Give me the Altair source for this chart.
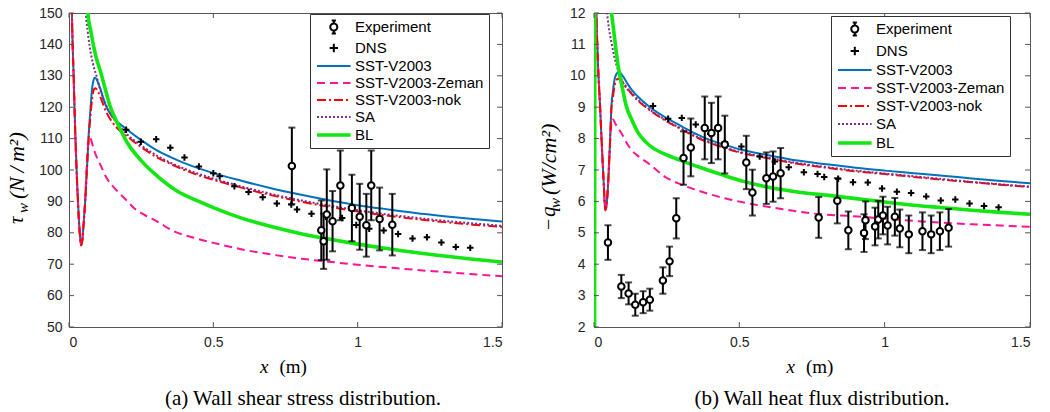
import altair as alt
import pandas as pd

# ---------------- legend / series ----------------
SERIES = ["Experiment", "DNS", "SST-V2003", "SST-V2003-Zeman", "SST-V2003-nok", "SA", "BL"]
COLORS = ["#000000", "#000000", "#0072BD", "#FF1493", "#FF0000", "#7E2F8E", "#13E613"]
DASHES = [[1, 0], [1, 0], [1, 0], [8, 5], [9, 3, 2, 3], [2, 2], [1, 0]]
WIDTHS = [2, 2, 2, 2, 2, 2, 3.6]

# ---------------- panel (a): wall shear stress ----------------
A_SST_X = [0.004, 0.01, 0.016, 0.022, 0.028, 0.034, 0.038, 0.042, 0.046, 0.05, 0.056, 0.062, 0.068,
           0.074, 0.08, 0.085, 0.089, 0.095, 0.1, 0.11, 0.12, 0.13, 0.15, 0.2, 0.25, 0.3, 0.35, 0.4,
           0.45, 0.5, 0.6, 0.7, 0.8, 0.9, 1.0, 1.1, 1.2, 1.3, 1.4, 1.5]
A_SST_Y = [190, 150, 130, 111, 96, 84.6, 79, 76, 77.5, 82, 90, 100, 111,
           119, 126, 128.6, 129.4, 129, 128, 125.5, 122.5, 120, 117, 113, 109.5, 106.5, 104.2, 102.2,
           100.5, 99, 96.5, 94.2, 92.2, 90.4, 88.8, 87.5, 86.3, 85.3, 84.4, 83.6]
A_NOK_X = [0.004, 0.01, 0.016, 0.022, 0.028, 0.034, 0.038, 0.042, 0.046, 0.05, 0.056, 0.062, 0.068,
           0.074, 0.08, 0.085, 0.09, 0.095, 0.1, 0.11, 0.12, 0.13, 0.15, 0.2, 0.25, 0.3, 0.35, 0.4,
           0.45, 0.5, 0.6, 0.7, 0.8, 0.9, 1.0, 1.1, 1.2, 1.3, 1.4, 1.5]
A_NOK_Y = [190, 150, 130, 111, 96, 84.6, 79, 76, 77.5, 82, 90, 100, 110,
           117, 122.5, 125.3, 126, 125.8, 125, 123, 120.5, 118.3, 115.2, 110.8, 107.3, 104.3, 102, 100,
           98.3, 96.9, 94.3, 92, 90, 88.3, 86.8, 85.5, 84.4, 83.4, 82.6, 81.9]
A_ZEM_X = [0.004, 0.01, 0.016, 0.022, 0.028, 0.034, 0.038, 0.042, 0.046, 0.05, 0.056, 0.061, 0.066,
           0.07, 0.075, 0.08, 0.09, 0.1, 0.108, 0.13, 0.16, 0.2, 0.224, 0.26, 0.305, 0.363, 0.43, 0.5,
           0.6, 0.7, 0.8, 0.9, 1.0, 1.1, 1.2, 1.3, 1.4, 1.5]
A_ZEM_Y = [190, 150, 130, 111, 96, 84.6, 79, 76, 77.5, 82, 90, 101, 108,
           110.3, 110, 108.5, 105.5, 103.3, 101.8, 97.5, 94, 90.3, 88, 85.8, 83.6, 80.5, 78.5, 76.8,
           74.7, 73.1, 71.8, 70.8, 69.8, 69, 68.2, 67.5, 66.8, 66.2]
A_SA_X = [0.052, 0.058, 0.065, 0.071, 0.083, 0.095, 0.11, 0.13, 0.15, 0.2, 0.25, 0.3, 0.4, 0.5,
          0.6, 0.7, 0.8, 0.9, 1.0, 1.1, 1.2, 1.3, 1.4, 1.5]
A_SA_Y = [158, 150, 144, 139.7, 133.9, 130, 125, 120.3, 117, 111.5, 107.8, 104.8, 100.4, 97.3,
          94.7, 92.4, 90.4, 88.7, 87.2, 85.9, 84.8, 83.8, 83, 82.2]
A_BL_X = [0.062, 0.066, 0.075, 0.085, 0.095, 0.106, 0.125, 0.141, 0.17, 0.2, 0.25, 0.3, 0.374, 0.45,
          0.5, 0.6, 0.7, 0.8, 0.9, 1.0, 1.1, 1.2, 1.3, 1.4, 1.5]
A_BL_Y = [155, 149.3, 144.5, 139.5, 135.5, 132.3, 126, 120.7, 114.5, 109, 103, 98.5, 93.3, 90,
          88, 84.6, 82, 79.8, 78, 76.4, 75, 73.7, 72.6, 71.6, 70.7]
A_DNS_X = [0.198, 0.249, 0.302, 0.351, 0.40, 0.45, 0.50, 0.522, 0.573, 0.622, 0.671, 0.72, 0.77,
           0.79, 0.84, 0.89, 0.946, 0.995, 1.04, 1.09, 1.14, 1.19, 1.24, 1.29, 1.34, 1.39]
A_DNS_Y = [112.8, 109, 109.8, 107.1, 104, 101.1, 99, 98, 94.8, 93, 91.3, 89.3, 89,
           87.4, 86.1, 85.1, 84.7, 82.5, 81.3, 80.7, 79.6, 78.2, 78.6, 76.9, 75.5, 75.2]
A_EXP_X = [0.772, 0.874, 0.882, 0.893, 0.913, 0.94, 0.98, 1.007, 1.03, 1.047, 1.076, 1.12]
A_EXP_Y = [101.3, 80.8, 77.3, 85.8, 83.7, 95.1, 87.9, 85.1, 82.4, 95.1, 84.4, 82.6]
A_EXP_E = [12.2, 9.5, 8.8, 14.4, 9.6, 11.1, 10.6, 10.5, 10.0, 11.1, 10.0, 9.8]

# ---------------- panel (b): wall heat flux ----------------
B_SST_X = [0.003, 0.008, 0.014, 0.02, 0.025, 0.03, 0.034, 0.039, 0.044, 0.048, 0.054, 0.06, 0.065,
           0.071, 0.078, 0.085, 0.092, 0.1, 0.115, 0.13, 0.15, 0.174, 0.2, 0.25, 0.3, 0.358, 0.4,
           0.45, 0.5, 0.55, 0.6, 0.7, 0.8, 0.9, 1.0, 1.1, 1.2, 1.3, 1.4, 1.5]
B_SST_Y = [14, 12, 10.3, 9.2, 8.18, 7.2, 6.47, 5.72, 5.95, 6.47, 7.65, 9.04, 9.5,
           9.9, 10.07, 10.12, 10.08, 9.98, 9.75, 9.55, 9.35, 9.14, 8.95, 8.65, 8.4, 8.12, 7.95,
           7.8, 7.66, 7.56, 7.47, 7.3, 7.18, 7.07, 6.98, 6.9, 6.82, 6.73, 6.65, 6.58]
B_NOK_X = [0.003, 0.008, 0.014, 0.02, 0.025, 0.03, 0.034, 0.039, 0.044, 0.048, 0.054, 0.06, 0.065,
           0.071, 0.078, 0.083, 0.09, 0.1, 0.115, 0.13, 0.15, 0.174, 0.2, 0.25, 0.3, 0.358, 0.4,
           0.45, 0.5, 0.55, 0.6, 0.7, 0.8, 0.9, 1.0, 1.1, 1.2, 1.3, 1.4, 1.5]
B_NOK_Y = [14, 12, 10.3, 9.2, 8.18, 7.2, 6.47, 5.72, 5.95, 6.47, 7.65, 8.95, 9.3,
           9.7, 9.88, 9.91, 9.88, 9.8, 9.6, 9.42, 9.22, 9.03, 8.85, 8.55, 8.3, 8.02, 7.86,
           7.7, 7.56, 7.46, 7.37, 7.2, 7.07, 6.96, 6.87, 6.78, 6.69, 6.61, 6.53, 6.46]
B_ZEM_X = [0.003, 0.008, 0.014, 0.02, 0.025, 0.03, 0.034, 0.039, 0.044, 0.048, 0.054, 0.058, 0.062,
           0.066, 0.072, 0.08, 0.094, 0.11, 0.128, 0.155, 0.186, 0.215, 0.243, 0.289, 0.35, 0.45,
           0.564, 0.65, 0.748, 0.908, 1.0, 1.1, 1.2, 1.3, 1.4, 1.5]
B_ZEM_Y = [14, 12, 10.3, 9.2, 8.18, 7.2, 6.47, 5.72, 5.95, 6.47, 7.65, 8.3, 8.58,
           8.61, 8.5, 8.38, 8.18, 7.9, 7.65, 7.42, 7.22, 7.0, 6.79, 6.58, 6.37, 6.1,
           5.88, 5.75, 5.62, 5.52, 5.45, 5.38, 5.32, 5.27, 5.23, 5.19]
B_SA_X = [0.04, 0.045, 0.05, 0.06, 0.07, 0.082, 0.094, 0.106, 0.12, 0.13, 0.15, 0.174, 0.2, 0.25,
          0.3, 0.358, 0.4, 0.45, 0.5, 0.6, 0.7, 0.8, 0.9, 1.0, 1.1, 1.2, 1.3, 1.4, 1.5]
B_SA_Y = [12.4, 12, 11.6, 11.07, 10.6, 10.2, 9.9, 9.68, 9.52, 9.45, 9.25, 9.05, 8.87, 8.57,
          8.32, 8.04, 7.88, 7.72, 7.58, 7.39, 7.22, 7.09, 6.98, 6.89, 6.8, 6.71, 6.62, 6.54, 6.47]
B_BL_X = [0.002, 0.004, 0.02, 0.04, 0.06, 0.083, 0.1, 0.111, 0.13, 0.151, 0.175, 0.2, 0.25, 0.3,
          0.366, 0.45, 0.518, 0.6, 0.7, 0.8, 0.908, 1.0, 1.1, 1.2, 1.3, 1.4, 1.5]
B_BL_Y = [0, 25, 15.5, 13.1, 12.0, 10.32, 9.5, 9.04, 8.6, 8.2, 7.92, 7.72, 7.48, 7.3,
          7.08, 6.82, 6.63, 6.45, 6.3, 6.2, 6.08, 5.98, 5.88, 5.8, 5.72, 5.65, 5.59]
B_DNS_X = [0.203, 0.255, 0.302, 0.35, 0.40, 0.45, 0.507, 0.57, 0.622, 0.67, 0.722, 0.769, 0.792,
           0.84, 0.891, 0.942, 0.991, 1.042, 1.091, 1.143, 1.193, 1.243, 1.292, 1.342, 1.392]
B_DNS_Y = [9.04, 8.63, 8.66, 8.45, 8.15, 7.88, 7.75, 7.43, 7.27, 7.09, 6.93, 6.87, 6.78,
           6.72, 6.61, 6.6, 6.41, 6.31, 6.27, 6.16, 6.03, 6.06, 5.93, 5.85, 5.81]
B_EXP_X = [0.048, 0.094, 0.119, 0.142, 0.169, 0.192, 0.237, 0.26, 0.283, 0.308, 0.333, 0.381, 0.404,
           0.427, 0.45, 0.524, 0.545, 0.593, 0.616, 0.642, 0.773, 0.837, 0.875, 0.929, 0.934, 0.967,
           0.978, 0.994, 1.01, 1.035, 1.052, 1.083, 1.13, 1.16, 1.19, 1.22]
B_EXP_Y = [4.69, 3.29, 3.07, 2.71, 2.79, 2.87, 3.48, 4.09, 5.46, 7.38, 7.72, 8.34, 8.18,
           8.34, 7.81, 7.24, 6.28, 6.74, 6.79, 6.9, 5.49, 6.02, 5.08, 4.99, 5.4, 5.2,
           5.42, 5.55, 5.23, 5.51, 5.14, 4.95, 5.05, 4.95, 5.05, 5.16]
B_EXP_E = [0.55, 0.37, 0.35, 0.35, 0.35, 0.35, 0.42, 0.47, 0.64, 0.85, 0.92, 1.0, 0.96,
           1.0, 0.92, 0.85, 0.73, 0.82, 0.8, 0.8, 0.65, 0.72, 0.6, 0.6, 0.6, 0.6,
           0.6, 0.6, 0.6, 0.6, 0.6, 0.6, 0.6, 0.6, 0.6, 0.6]

X_TICKS = [0, 0.5, 1, 1.5]
A_Y_TICKS = [50, 60, 70, 80, 90, 100, 110, 120, 130, 140, 150]
B_Y_TICKS = [2, 3, 4, 5, 6, 7, 8, 9, 10, 11, 12]

BOX = "#555555"
SANS = "Liberation Sans"
SERIF = "Liberation Serif"
H = 314

# legend symbols (unit = 7 px, symbolSize 196)
LINE_SYM = "M-1,0H3.8"
EXP_SYM = ("M1.4,-0.93V-0.5M1.4,0.5V0.93M1.1,-0.93H1.7M1.1,0.93H1.7"
           "M1.9,0A0.5,0.5 0 1,1 0.9,0A0.5,0.5 0 1,1 1.9,0")
DNS_SYM = "M0.8,0H2.0M1.4,-0.6V0.6"
SHAPES = [EXP_SYM, DNS_SYM, LINE_SYM, LINE_SYM, LINE_SYM, LINE_SYM, LINE_SYM]


def panel(W, ydom, yticks, ylab_pad, curves, dns, exp, leg_x, leg_y, row_pad,
          ytitle_parts, cap, cap_x):
    xsc = alt.Scale(domain=[0, 1.5], nice=False, zero=False)
    ysc = alt.Scale(domain=ydom, nice=False, zero=False)
    xax = alt.Axis(values=X_TICKS, format=".1~f", ticks=False, domain=False, grid=False,
                   labelPadding=8, title=None)
    yax = alt.Axis(values=yticks, format="d", ticks=False, domain=False, grid=False,
                   labelPadding=ylab_pad, title=None)

    def X(f="x"):
        return alt.X(f + ":Q", scale=xsc, axis=xax)

    def Y(f="y"):
        return alt.Y(f + ":Q", scale=ysc, axis=yax)

    layers = []
    # model curves
    for (xs, ys, name) in curves:
        i = SERIES.index(name)
        df = pd.DataFrame({"x": xs, "y": ys})
        kw = dict(color=COLORS[i], strokeWidth=WIDTHS[i], clip=True, interpolate="monotone")
        if DASHES[i] != [1, 0]:
            kw["strokeDash"] = DASHES[i]
        layers.append(alt.Chart(df).mark_line(**kw).encode(x=X(), y=Y()))
    # DNS
    dxs, dys = dns
    layers.append(alt.Chart(pd.DataFrame({"x": dxs, "y": dys})).mark_point(
        shape="M-1,0H1M0,-1V1", size=42, stroke="black", strokeWidth=2, opacity=1,
        filled=False, clip=True).encode(x=X(), y=Y()))
    # experiment with error bars
    exs, eys, ees = exp
    edf = pd.DataFrame({"x": exs, "y": eys, "e": ees})
    edf["lo"] = edf["y"] - edf["e"]
    edf["hi"] = edf["y"] + edf["e"]
    base = alt.Chart(edf)
    layers.append(base.mark_rule(color="black", strokeWidth=2, clip=True).encode(
        x=X(), y=Y("lo"), y2="hi:Q"))
    layers.append(base.mark_tick(color="black", thickness=2, size=7, orient="horizontal",
                                 clip=True).encode(x=X(), y=Y("lo")))
    layers.append(base.mark_tick(color="black", thickness=2, size=7, orient="horizontal",
                                 clip=True).encode(x=X(), y=Y("hi")))
    layers.append(base.mark_point(shape="circle", size=42, fill="white", stroke="black",
                                  strokeWidth=2, opacity=1, filled=True, clip=True).encode(
        x=X(), y=Y()))
    # inward ticks on all four sides
    xt = alt.Chart(pd.DataFrame({"v": X_TICKS}))
    yt = alt.Chart(pd.DataFrame({"v": yticks}))
    layers.append(xt.mark_rule(color=BOX, strokeWidth=1).encode(
        x=X("v"), y=alt.value(H), y2=alt.value(H - 5)))
    layers.append(xt.mark_rule(color=BOX, strokeWidth=1).encode(
        x=X("v"), y=alt.value(0), y2=alt.value(5)))
    layers.append(yt.mark_rule(color=BOX, strokeWidth=1).encode(
        y=Y("v"), x=alt.value(0), x2=alt.value(5)))
    layers.append(yt.mark_rule(color=BOX, strokeWidth=1).encode(
        y=Y("v"), x=alt.value(W), x2=alt.value(W - 5)))
    # legend-only layer (no rows drawn)
    legend = alt.Legend(title=None, orient="none", legendX=leg_x, legendY=leg_y,
                        symbolSize=196, labelOffset=22, labelFont=SANS, labelFontSize=15,
                        labelColor="black", rowPadding=row_pad, padding=5, strokeColor="#333333",
                        fillColor="white", symbolFillColor="transparent",
                        labelExpr="datum.label + '\u00a0\u00a0'")
    sdf = pd.DataFrame({"series": SERIES})
    layers.append(alt.Chart(sdf).transform_filter("false").mark_point(
        opacity=1, filled=False).encode(
        x=alt.value(0), y=alt.value(0),
        color=alt.Color("series:N", scale=alt.Scale(domain=SERIES, range=COLORS), legend=legend),
        shape=alt.Shape("series:N", scale=alt.Scale(domain=SERIES, range=SHAPES), legend=legend),
        strokeDash=alt.StrokeDash("series:N", scale=alt.Scale(domain=SERIES, range=DASHES),
                                  legend=legend),
        strokeWidth=alt.StrokeWidth("series:N", scale=alt.Scale(type="ordinal", domain=SERIES,
                                                                range=WIDTHS), legend=legend),
    ))
    # titles and caption as text
    one = alt.Chart(pd.DataFrame({"k": [0]}))
    cx = W / 2
    layers.append(one.mark_text(text="x", font=SERIF, fontSize=19, fontStyle="italic",
                                align="right", baseline="middle", color="black").encode(
        x=alt.value(cx - 17), y=alt.value(354)))
    layers.append(one.mark_text(text="(m)", font=SERIF, fontSize=19,
                                align="left", baseline="middle", color="black").encode(
        x=alt.value(cx - 6), y=alt.value(354)))
    for (txt, px, py, fs, style) in ytitle_parts:
        kw = dict(text=txt, font=SERIF, fontSize=fs, align="left", baseline="middle",
                  angle=270, color="black")
        if style:
            kw["fontStyle"] = "italic"
        layers.append(one.mark_text(**kw).encode(x=alt.value(px), y=alt.value(py)))
    layers.append(one.mark_text(text=cap, font=SERIF, fontSize=21, align="center",
                                baseline="middle", color="black").encode(
        x=alt.value(cap_x), y=alt.value(386)))
    return alt.layer(*layers).properties(width=W, height=H)


left = panel(
    433, [50, 150], A_Y_TICKS, 7,
    [(A_SST_X, A_SST_Y, "SST-V2003"), (A_ZEM_X, A_ZEM_Y, "SST-V2003-Zeman"),
     (A_NOK_X, A_NOK_Y, "SST-V2003-nok"), (A_SA_X, A_SA_Y, "SA"), (A_BL_X, A_BL_Y, "BL")],
    (A_DNS_X, A_DNS_Y), (A_EXP_X, A_EXP_Y, A_EXP_E), 241, 1, 1,
    [("τ", -52, 211, 21, True), ("w", -46, 200, 15, True),
     ("(N\u2009/\u2009m²)", -52, 186, 22, True)],
    "(a) Wall shear stress distribution.", 234)

right = panel(
    436, [2, 12], B_Y_TICKS, 9,
    [(B_SST_X, B_SST_Y, "SST-V2003"), (B_ZEM_X, B_ZEM_Y, "SST-V2003-Zeman"),
     (B_NOK_X, B_NOK_Y, "SST-V2003-nok"), (B_SA_X, B_SA_Y, "SA"), (B_BL_X, B_BL_Y, "BL")],
    (B_DNS_X, B_DNS_Y), (B_EXP_X, B_EXP_Y, B_EXP_E), 237, 3, 2,
    [("−", -45, 217, 20, False), ("q", -45, 204, 21, True), ("w", -39, 195, 15, True),
     ("(W/cm²)", -45, 182, 22, True)],
    "(b) Wall heat flux distribution.", 228)

chart = alt.hconcat(left, right, spacing=34).resolve_scale(
    color="independent", shape="independent", strokeDash="independent",
    strokeWidth="independent", x="independent", y="independent"
).resolve_legend(
    color="independent", shape="independent", strokeDash="independent",
    strokeWidth="independent"
).configure_view(stroke=BOX, strokeWidth=1).configure_axis(
    labelFont=SANS, labelFontSize=14, labelColor="#262626"
).properties(padding={"left": 5, "top": 5, "right": 5, "bottom": 5})

chart.save("out.html", embed_options={"renderer": "svg", "actions": False})
